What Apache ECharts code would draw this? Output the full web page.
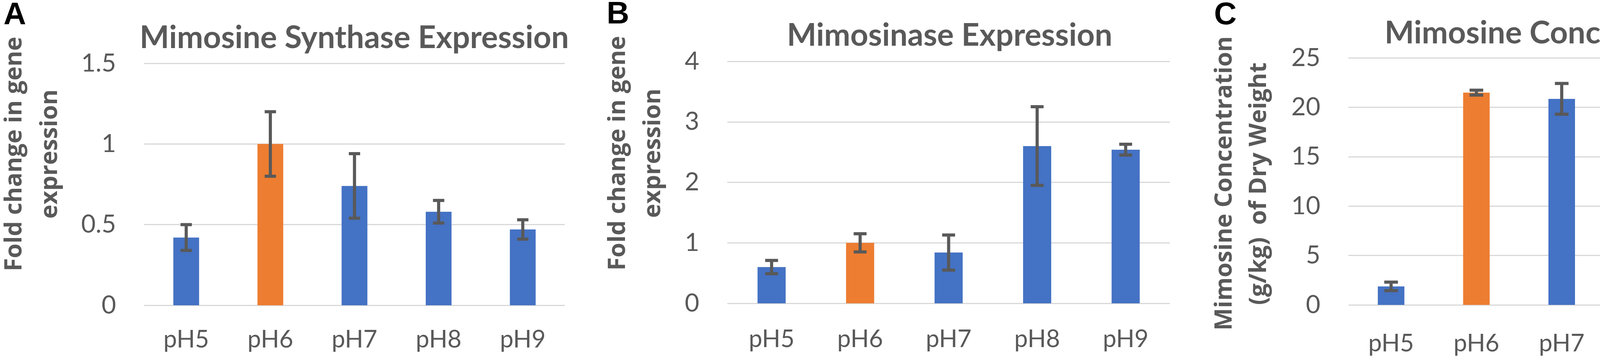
<!DOCTYPE html>
<html>
<head>
<meta charset="utf-8">
<script src="https://cdn.jsdelivr.net/npm/echarts@6/dist/echarts.min.js"></script>
<style>
html,body{margin:0;padding:0;background:#fff;}
#chart{width:4562px;height:921px;}
</style>
</head>
<body>
<div id="chart"></div>
<script>
// ---- data ----
const categories = ['pH5', 'pH6', 'pH7', 'pH8', 'pH9'];
const synthaseValues = [0.42, 1.00, 0.74, 0.58, 0.47];
const synthaseErrors = [0.08, 0.20, 0.20, 0.07, 0.06];
const mimosinaseValues = [0.60, 1.00, 0.84, 2.60, 2.54];
const mimosinaseErrors = [0.11, 0.15, 0.29, 0.65, 0.09];
const concentrationValues = [1.87, 21.48, 20.85, 14.14, 9.37];
const concentrationErrors = [0.43, 0.25, 1.56, 1.25, 0.98];
const panelTitles = ['Mimosine Synthase Expression', 'Mimosinase Expression', 'Mimosine Concentration'];
const panelLetters = ['A', 'B', 'C'];
const yNameLines = [
  ['Fold change in gene', 'expression'],
  ['Fold change in gene', 'expression'],
  ['Mimosine Concentration', '(g/kg)  of Dry Weight']
];
const yMax = [1.5, 4, 25];
const yInterval = [0.5, 1, 5];
const highlightIndex = 1; // pH6 bar is orange

// ---- styling / layout ----
const BLUE = '#4472C4', ORANGE = '#ED7D31', TEXT = '#595959', GRID = '#D9D9D9', ERR = '#595959';
const grids = [
  {left: 369, top: 162, width: 1077, height: 619},
  {left: 1862, top: 157, width: 1133, height: 619},
  {left: 3452, top: 148, width: 1092, height: 632}
];
const barWidths = [66, 72, 68];
const capWidths = [29, 33, 35];
const xLabelMargins = [57, 61, 68];
const titlePos = [
  {x: 902, y: 52},
  {x: 2426, y: 46},
  {x: 3980, y: 40}
];
const letterPos = [{x: 9, y: 40}, {x: 1553, y: 38}, {x: 3108, y: 40}];
const yNamePos = [
  [{x: 38, y: 394}, {x: 129, y: 394}],
  [{x: 1583, y: 392}, {x: 1673, y: 392}],
  [{x: 3136, y: 469}, {x: 3224, y: 470}]
];

const valueSets = [synthaseValues, mimosinaseValues, concentrationValues];
const errorSets = [synthaseErrors, mimosinaseErrors, concentrationErrors];

const chart = echarts.init(document.getElementById('chart'), null, {renderer: 'canvas'});

const option = {
  animation: false,
  backgroundColor: '#ffffff',
  title: panelTitles.map((t, i) => ({
    text: t,
    left: titlePos[i].x,
    top: titlePos[i].y,
    textAlign: 'center',
    textStyle: {fontFamily: 'Lato', fontWeight: 'bold', fontSize: 80, color: TEXT}
  })),
  grid: grids.map(g => Object.assign({containLabel: false}, g)),
  xAxis: grids.map((g, i) => ({
    type: 'category',
    gridIndex: i,
    data: categories,
    boundaryGap: true,
    axisLine: {show: false},
    axisTick: {show: false},
    axisLabel: {fontFamily: 'Lato', fontSize: 62, color: TEXT, margin: xLabelMargins[i]}
  })),
  yAxis: grids.map((g, i) => ({
    type: 'value',
    gridIndex: i,
    min: 0,
    max: yMax[i],
    interval: yInterval[i],
    axisLine: {show: false},
    axisTick: {show: false},
    splitLine: {show: true, lineStyle: {color: GRID, width: 3}},
    axisLabel: {fontFamily: 'Lato', fontSize: 64, color: TEXT, margin: 72, padding: [0, 0, 10, 0]}
  })),
  series: [],
  graphic: []
};

valueSets.forEach((vals, i) => {
  option.series.push({
    type: 'bar',
    xAxisIndex: i,
    yAxisIndex: i,
    data: vals,
    barWidth: barWidths[i],
    itemStyle: {color: p => p.dataIndex === highlightIndex ? ORANGE : BLUE},
    z: 2
  });
  const errs = errorSets[i];
  const cap = capWidths[i];
  option.series.push({
    type: 'custom',
    xAxisIndex: i,
    yAxisIndex: i,
    data: vals.map((v, k) => [k, v, errs[k]]),
    encode: {x: 0, y: 1},
    z: 5,
    renderItem: function (params, api) {
      const k = api.value(0), v = api.value(1), e = api.value(2);
      const top = api.coord([k, v + e]);
      const bot = api.coord([k, v - e]);
      const st = {stroke: ERR, lineWidth: 8, lineCap: 'butt'};
      return {
        type: 'group',
        children: [
          {type: 'line', shape: {x1: top[0], y1: top[1], x2: bot[0], y2: bot[1]}, style: st},
          {type: 'line', shape: {x1: top[0] - cap / 2, y1: top[1], x2: top[0] + cap / 2, y2: top[1]}, style: st},
          {type: 'line', shape: {x1: bot[0] - cap / 2, y1: bot[1], x2: bot[0] + cap / 2, y2: bot[1]}, style: st}
        ]
      };
    }
  });
});

panelLetters.forEach((L, i) => {
  option.graphic.push({
    type: 'text',
    x: letterPos[i].x,
    y: letterPos[i].y,
    style: {text: L, fontFamily: 'Liberation Sans', fontWeight: 'bold', fontSize: 80, fill: '#000000', align: 'left', verticalAlign: 'middle'}
  });
});

yNameLines.forEach((lines, i) => {
  lines.forEach((line, j) => {
    option.graphic.push({
      type: 'text',
      x: yNamePos[i][j].x,
      y: yNamePos[i][j].y,
      rotation: Math.PI / 2,
      style: {text: line, fontFamily: 'Open Sans', fontWeight: 'bold', fontSize: 61, fill: TEXT, align: 'center', verticalAlign: 'middle'}
    });
  });
});

chart.setOption(option);
</script>
</body>
</html>
